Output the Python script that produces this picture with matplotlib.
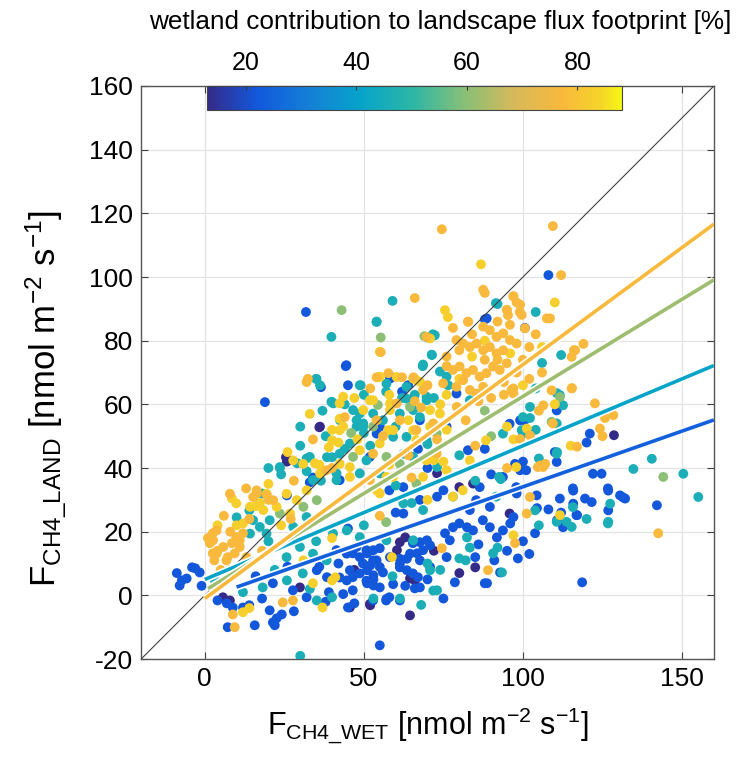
import matplotlib
matplotlib.use("Agg")
import matplotlib.pyplot as plt
import matplotlib.patheffects as pe
import numpy as np
from matplotlib.colors import LinearSegmentedColormap

plt.rcParams['font.family'] = ['Liberation Sans', 'DejaVu Sans']
plt.rcParams['mathtext.default'] = 'regular'
plt.rcParams['axes.unicode_minus'] = False

# scatter points, grouped by colour (wetland % in footprint)
pts_dark = [(25.5, 43.4), (25.8, 42), (36, 52.8), (5.7, -0.6), (7.9, -1.6), (64.5, -6.3), (52, -3.1),
            (85, 8.8), (64.5, 5.3), (66, 4.7), (60.4, 14.2), (61.3, 16.7), (63, 18.2), (29.9, 2.5),
            (36.2, 53), (73, 38.3), (84.3, 35.1), (95.8, 25.7), (128.6, 50.3), (45.6, -3.8), (51.9, -2.7),
            (80, 34), (47, 8), (72, 14), (80, 7)]

pts_blue = [(31.8, 89), (44.3, 72), (58.8, 68.5), (36.5, 65.4), (18.9, 60.7), (34, 37), (33, 35.5), (25.8, 31.4),
            (-8.8, 7), (-7.2, 4.7), (-5.7, 5.3), (-4, 8.8), (-3, 8.5), (-1.6, 7.2), (-7.9, 3.1), (-1, 3),
            (6.9, -2.5), (8.8, -3.8), (4, -1.6), (12, -3.8), (14, -3.1), (7.2, -10), (15.7, -9.4), (22.6, -7.2),
            (24.2, -6), (22, -9.4), (21.4, -8.5), (20.4, -4.7), (21.4, 3.8), (27.7, 1.6), (32, -0.6), (35.2, 7.9),
            (38.4, 5.7), (55, -15.7), (45, -3.8), (47, -2.5), (57, -1.6), (58, -0.6), (46.5, 1.6), (53, 3.1),
            (55, 2.5), (51, 3.8), (66, 2.2), (78.6, 4.1), (88, 3.8), (44.6, 4.7), (46.5, 5.7), (48.7, 6.9),
            (51, 7.9), (53, 6.3), (56, 7.2), (61.3, 8.8), (63.5, 7.9), (65.4, 6.9), (67, 5.7), (98.4, 11.6),
            (91, 11), (61.3, 11.5), (63.5, 11.5), (49.7, 10), (52, 9.4), (54, 11), (45.6, 7.9), (77, 17.3),
            (75.5, 19.5), (91.8, 18.2), (93.7, 20.4), (96, 22.6), (89.6, 21.4), (87.4, 23.6), (80, 22.6),
            (82.4, 21.4), (84.3, 20.4), (78, 21.4), (65.4, 16.4), (67.6, 16.7), (69.8, 17.3), (70.8, 15.7),
            (68.6, 14.2), (66.7, 13.2), (55, 14.8), (53, 14.2), (51, 13.2), (48.7, 12), (46.5, 13.2),
            (51.9, 43.5), (67.6, 55), (54, 50.8), (55, 53), (76, 53), (82.7, 45.6), (95.8, 53.9), (100.5, 55),
            (101, 39.3), (62.4, 34), (73, 31), (67.6, 30), (86.4, 34), (93.7, 37.2), (97.9, 34), (85.3, 29.9),
            (62.4, 25.7), (83.3, 26.8), (89.6, 27.8), (88.6, 87), (108, 100.6), (100.6, 84), (88, 86.7),
            (44.5, 72.3), (45, 66), (58.2, 68.1), (63.9, 66), (79.1, 63.4), (99.1, 55), (110.6, 58.1),
            (110.6, 41.9), (97.5, 41.3), (99.1, 39.3), (122, 38.2), (124.7, 38.2), (121, 50.8),
            (104.3, 31.4), (111.6, 30.4), (115.8, 32.9), (119.5, 30.4), (121.6, 29.3), (126.8, 32.9),
            (130.5, 31.4), (132.1, 30.4), (142.1, 28.3), (126.8, 26.7), (115.8, 28.8), (116.8, 25.2), (98, 32),
            (97, 24.6), (118.6, 4.1), (126.7, 33.6), (131.4, 30.8), (115.7, 33.6), (117, 25.2), (110.7, 23.6),
            (112.6, 21.4), (104.4, 27.4), (103.8, 19.5), (92.8, 7.2), (88.7, 3.8), (41.4, 14.2), (44.6, 13.1),
            (47.7, 15.2), (50.8, 14.2), (52.9, 11), (55, 8.9), (58.2, 12), (61.3, 9.9), (64.5, 13.1), (67.6, 11),
            (70.8, 8.9), (42.4, 5.6), (50.8, 4.6), (59.2, 3.5), (67.6, 2.5), (43.5, 0.4), (52.9, -1.6),
            (61.3, -1.6), (57.1, -1.1), (42.4, 36.2), (67, 46), (58, 33), (70, 40), (88, 46), (45, 21), (60, 26),
            (75, 33), (90, 38), (100, 42), (110, 45), (120, 48), (42, 10), (53, 5), (63, 3), (70, 5), (76, 12),
            (86, 16), (95, 14), (100, 17), (108, 27), (112, 26), (102, 13), (85, 12), (75, -1), (38, -2),
            (28, -5), (18, -1), (16, 6), (26, 9), (36, 9), (39, 1), (62, 64)]

pts_teal = [(59, 92.5), (54, 86), (71.7, 82), (68.5, 72), (35, 68), (71.4, 75.5), (70, 81), (112, 75.5), (106, 73),
            (92, 91.5), (104, 89), (40, 60.7), (42.5, 55), (23.6, 40), (29, 41.5), (32, 43), (38.4, 43.4),
            (40, 43.4), (36.5, 36), (10, 24.5), (14, 26.7), (18.2, 2.5), (25.8, 4.7), (35.2, -1.6), (30.8, 6.9),
            (40, -0.6), (30, -19), (53, -1), (61.3, -1), (73, 1.6), (70.8, 7.9), (70, 10), (93.4, 7.2),
            (90.6, 13.2), (80, 11.6), (82, 11), (83.3, 15), (82.4, 18.2), (40.4, 60.3), (46.6, 58.2), (47.7, 55),
            (52.9, 57.1), (56, 55), (63.4, 61.8), (65.5, 58.2), (69.7, 61.3), (59.2, 49.8), (45.6, 47.7),
            (42.4, 44.5), (41.4, 36.2), (49.8, 53), (83.3, 61.3), (62.4, 44.5), (93.7, 50.8), (100, 50.8),
            (73, 40.3), (92.5, 37.2), (78, 31), (62.4, 28.9), (91.6, 31), (68.6, 26.8), (39.8, 81.2), (54, 85.9),
            (72.3, 81.7), (71.3, 75.6), (68.6, 72.5), (91.5, 91.8), (73.9, 70.3), (76, 68.7), (69.7, 62.4),
            (76.5, 66), (49, 66), (111.6, 62.9), (102.2, 59.2), (112.6, 59.7), (102.2, 55.7), (110.6, 54),
            (99.6, 51.9), (110.6, 44.5), (134.7, 39.7), (140.5, 42.9), (150.4, 38.2), (155.1, 30.9),
            (127.4, 28.8), (126.8, 23.1), (115.3, 21.5), (113.7, 23.1), (103.8, 26.7), (110.6, 23.1),
            (126.7, 22.6), (115.7, 27.7), (110.7, 63.5), (110.7, 45), (35.1, 68), (36.2, 66), (48.7, 66),
            (39.8, 60.8), (48.7, 57.1), (49.8, 54), (47.7, 53), (23.6, 40.3), (33, 43.5), (57.1, 66.5),
            (63.4, 65.5), (61.3, 57.1), (67.6, 56), (38.3, 11), (29.9, 15.2), (34, 13.1), (25.7, 12), (71.8, 1.5),
            (14.2, 19.4), (17.3, 21.5), (20.4, 23.6), (15.2, 23.6), (19.4, 19.4), (18, 32), (27.8, 21.5),
            (32, 24.6), (40.3, 19.4), (48.7, 18.3), (57.1, 17.3), (65.5, 17.3), (44.6, 20.4), (34, 36.2),
            (41.4, 38.3), (48.7, 38.3), (55, 38.3), (50.8, 42.4), (65.5, 43.5), (63.4, 49.8), (69.7, 48.7),
            (70, 47.5), (60, 34.5), (80, 44), (100, 56), (104, 52), (35, 17), (50, 22), (65, 29), (85, 36),
            (105, 43), (93, 36.5), (59, 6), (74, 8), (92, 15), (105, 22), (120, 24), (68, -3), (33, 2), (12, 1),
            (22, 8), (24, 38), (32, 39), (44, 46), (52, 47), (60, 53), (72, 62), (50, 63), (66, 63), (20, 40),
            (30, 47), (38, 50), (50, 51), (30, 53), (37, 58), (44, 60), (57, 64), (62, 62), (104, 65), (3, 5),
            (20, 17)]

pts_green = [(43, 89.6), (55.3, 81), (69, 81.4), (54.4, 59.8), (66.5, 35.1), (109, 54.5), (144.1, 37.2),
             (111.6, 62.3), (64.5, 59.2), (72.9, 50.8), (46.6, 43.5), (57.1, 43.5), (61.3, 41.3),
             (23.6, 25.7), (31, 27.8), (35.2, 29.9), (52.9, 53), (88, 58), (90, 50), (57, 23), (46, 51)]

pts_orange = [(74.5, 115), (109.4, 116), (112, 100.6), (87.5, 96), (88, 95), (97, 94), (98, 92), (99, 89),
              (108.5, 87), (107.5, 87), (95, 89.6), (95.3, 88), (82.7, 86), (66, 93.4), (116, 77), (119, 79),
              (32.4, 68), (54, 68.5), (62, 68.5), (65.6, 68.5), (32, 67), (13, 33.6), (16.4, 32), (19.5, 31.4),
              (2.5, 19.5), (1.6, 16.4), (2.5, 13.2), (3, 11), (4, 14), (8.8, -6), (9.4, -10), (24.5, -2.2),
              (27.7, -1.6), (89, 7.9), (74.5, 14.8), (97.5, 16.4), (60.3, 60.3), (61.3, 55), (79.2, 59.2),
              (55.3, 76.4), (69.7, 81.2), (82.8, 85.9), (97, 93.9), (99.1, 91.3), (94.9, 89.7), (95.9, 85),
              (99.6, 88.1), (100.6, 83.9), (87.5, 84.4), (89.6, 83.3), (91.7, 81.2), (93.8, 82.3), (95.9, 80.2),
              (98, 79.1), (79.1, 80.2), (81.2, 79.1), (83.3, 78), (85.4, 79.1), (87.5, 77), (89.6, 78),
              (91.7, 76), (93.8, 77), (78, 70.8), (80.1, 71.9), (82.2, 69.8), (84.3, 70.8), (86.4, 68.7),
              (88.5, 69.8), (90.6, 71.9), (92.7, 70.8), (94.9, 72.9), (74.9, 66.6), (79.1, 65.5), (83.3, 64.5),
              (87.5, 65.5), (81.2, 67.6), (85.4, 63.4), (57.7, 69.8), (96.4, 64.5), (97, 65), (97, 63.4),
              (109, 64.4), (115.3, 65), (106.4, 59.7), (122.6, 60.3), (99.1, 49.1), (102.2, 50.2), (124.2, 52.4),
              (128.4, 56.6), (117, 46.7), (105.4, 40.8), (107, 41.3), (102.2, 30.9), (101.2, 25.7),
              (142.5, 19.5), (125.8, 55.7), (115.4, 65.1), (109.4, 54), (106.3, 40.3), (104.7, 40.3),
              (116.4, 77), (115.3, 74.9), (7.9, 31.9), (3.7, 20.4), (2.6, 17.3), (5.8, 15.2), (3.7, 13.1),
              (6.8, 11), (11, 15.2), (13.1, 12), (9.9, 18.3), (16.3, 33), (15.2, 30.9), (21.5, 29.9),
              (8.5, 16.4), (9.4, 13.2), (7.2, 12), (11, 17.3), (12, 19.5), (68.6, 64.5), (71.8, 54),
              (66.5, 51.9), (38.3, 39.3), (51.9, 36.2), (52.9, 44.5), (72.9, 44.5), (64, 44), (82, 55), (94, 63),
              (73, 49), (65, 37), (85, 47), (105, 58), (55, 25), (95, 40), (125, 50), (28, 36), (40, 40), (56, 50),
              (68, 59), (44, 56), (70, 66), (34, 49), (54, 55), (52, 65), (66, 61), (76, 75), (80, 77), (88, 74),
              (92, 74), (98, 70), (100, 74), (102, 78), (104, 82), (76, 72), (86, 61), (90, 62), (94, 67),
              (78, 84), (84, 82), (92, 86), (102, 68), (106, 70), (1, 18), (6, 25), (8, 20), (14, 24), (20, 30),
              (5, 8), (11, 8), (18, 14), (27, 24)]

pts_yellow = [(86.8, 104), (110, 92), (75.5, 89.6), (76.4, 87.4), (70.8, 80.7), (55, 76.5), (40, 52), (40, 48.7),
              (39, 46.5), (34.6, 41.5), (8.5, 30.5), (12, -5.3), (14, -4), (37, -3.8), (34, 3.8), (40, 4.7),
              (41, 5.7), (58.8, 12), (97, 18.9), (43.5, 62.4), (49.8, 58.2), (51.9, 61.3), (58.2, 58.2),
              (57.6, 51.9), (65.5, 51.9), (55, 47.7), (48.7, 45.6), (42.4, 51.9), (45.6, 40.3), (73.9, 57.1),
              (70.8, 53), (66.5, 48.8), (57.1, 37.2), (54, 33), (88.4, 48.7), (83.3, 42.4), (76, 39.3),
              (68.6, 37.2), (97.9, 40.3), (81.1, 33), (42.4, 60.3), (42.4, 55.5), (43.5, 53), (55, 68.6),
              (60.3, 68.6), (66.5, 67.6), (52.9, 61.3), (67.6, 67.1), (65.5, 68.1), (55, 68.7), (27.8, 42.4),
              (30.9, 41.3), (19.4, 31.9), (25.7, 31.9), (28.9, 29.9), (32, 33), (9.9, 28.9), (14.2, 27.8),
              (18.4, 26.8), (22.6, 27.8), (26.8, 25.7), (101.2, 52.4), (111.6, 25.2), (12, 22.6), (17.3, 29),
              (58.2, 60.3), (70.8, 58.2), (59.2, 51.9), (36.2, 38.3), (45.6, 37.2), (59.2, 37.2), (42.4, 41.3),
              (69.7, 42.4), (58, 41), (76, 52), (100, 66), (55, 32), (75, 42), (95, 53), (110, 60), (72, 42.5),
              (97, 49), (40, 18), (70, 30), (115, 47), (78, 31), (31, 11), (20, 35), (36, 41), (48, 49), (64, 55),
              (76, 63), (58, 63), (74, 60), (26, 45), (42, 48), (33, 57), (47, 62), (84, 75), (96, 76), (106, 78),
              (80, 68), (88, 80), (4, 22), (10, 22), (16, 28), (8, 8), (14, 10), (24, 22)]

groups = [pts_dark, pts_blue, pts_teal, pts_green, pts_yellow, pts_orange]
group_pct = [13, 22, 46, 60, 83, 77]

# regression lines per wetland-contribution class
fit_pct = [24, 41, 62, 77]
fit_intercept = [-0.9, 5.0, 1.5, -1.0]
fit_slope = [0.35, 0.42, 0.61, 0.735]
fit_xstart = [10, 0, 1, 0]

cb_ticks = [20, 40, 60, 80]
pct_range = (13, 88)

parula = LinearSegmentedColormap.from_list(
    "parula_like",
    [(0.0, "#352A87"), (0.12, "#1258DC"), (0.25, "#1481D6"), (0.37, "#06A4CA"), (0.5, "#2EB7A4"),
     (0.62, "#87BF77"), (0.74, "#D6B95A"), (0.86, "#F9B93C"), (0.95, "#F5D42A"), (1.0, "#F6F614")])

fig = plt.figure(figsize=(7.39, 7.61), dpi=100)
ax = fig.add_axes([0.191, 0.134, 0.775, 0.753])

xs, ys, cs = [], [], []
for pts, pct in zip(groups, group_pct):
    for x, y in pts:
        xs.append(x)
        ys.append(y)
        cs.append(pct)

sc = ax.scatter(xs, ys, c=cs, cmap=parula, vmin=pct_range[0], vmax=pct_range[1],
                s=50, edgecolors='none', zorder=3)

ax.plot([-20, 160], [-20, 160], color='#404040', lw=0.8, zorder=4)

for pct, b, m, x0 in zip(fit_pct, fit_intercept, fit_slope, fit_xstart):
    xl = np.array([x0, 160])
    ax.plot(xl, b + m * xl, color=parula((pct - pct_range[0]) / (pct_range[1] - pct_range[0])),
            lw=2.6, zorder=5, solid_capstyle='butt',
            path_effects=[pe.Stroke(linewidth=5, foreground='white'), pe.Normal()])

ax.set_xlim(-20, 160)
ax.set_ylim(-20, 160)
ax.set_xticks([0, 50, 100, 150])
ax.set_yticks(np.arange(-20, 161, 20))
ax.grid(True, color='#e3e3e3', lw=0.9)
ax.set_axisbelow(True)
ax.tick_params(direction='in', length=5, labelsize=19, top=True, right=True, color='#404040', pad=6)
for sp in ax.spines.values():
    sp.set_color('#555555')
    sp.set_linewidth(1.0)

ax.set_xlabel(r'F$_{CH4\_WET}$ [nmol m$^{-2}$ s$^{-1}$]', fontsize=22, labelpad=10)
ax.set_ylabel(r'F$_{CH4\_LAND}$ [nmol m$^{-2}$ s$^{-1}$]', fontsize=25)
ax.yaxis.set_label_coords(-0.126, 0.455)

cax = ax.inset_axes([0.115, 0.958, 0.724, 0.042])
cb = fig.colorbar(sc, cax=cax, orientation='horizontal')
cb.set_ticks(cb_ticks)
cax.xaxis.set_ticks_position('top')
cax.tick_params(direction='in', length=3, labelsize=18, color='#333333', pad=8)
cb.outline.set_edgecolor('#444444')
ax.text(0.522, 1.112, 'wetland contribution to landscape flux footprint [%]',
        transform=ax.transAxes, ha='center', va='center', fontsize=18.8)

fig.savefig("out.png", dpi=100)
